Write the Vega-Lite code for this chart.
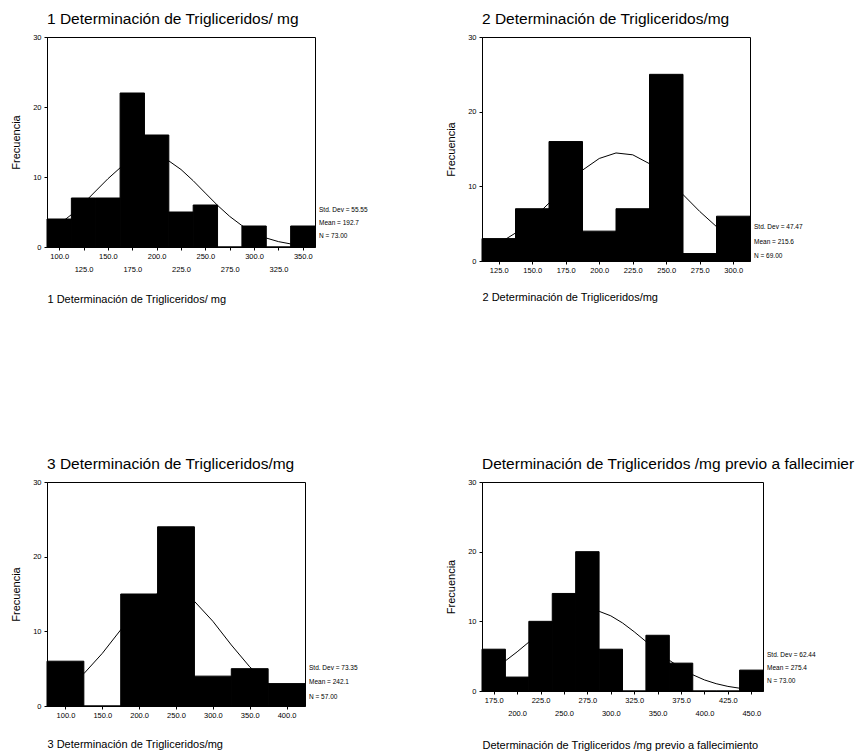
{
  "$schema": "https://vega.github.io/schema/vega-lite/v6.json",
  "background": "white",
  "padding": {"left": 10, "top": 11, "right": 0, "bottom": 0},
  "columns": 2,
  "bounds": "flush",
  "align": {"row": "each", "column": "none"},
  "spacing": {"row": 221, "column": 167},
  "config": {
    "font": "Liberation Sans",
    "view": {"stroke": "black", "strokeWidth": 1},
    "title": {"font": "Liberation Sans", "fontSize": 15.5, "fontWeight": "normal", "anchor": "start", "frame": "group", "color": "black", "offset": 6},
    "axis": {"labelFont": "Liberation Sans", "titleFont": "Liberation Sans", "labelFontSize": 7.5, "labelColor": "black", "titleColor": "black", "domainColor": "black", "tickColor": "black", "grid": false, "titleFontWeight": "normal", "labelFlush": false, "labelOverlap": false, "tickSize": 3, "labelPadding": 2},
    "axisY": {"format": "d", "titleFontSize": 11, "titlePadding": 11, "labelPadding": 3},
    "axisX": {"format": ".1f", "titleFontSize": 11, "titleAnchor": "start", "titleAlign": "left", "titleBaseline": "middle", "titleX": 0}
  },
  "concat": [
    {
      "width": 268, "height": 210,
      "title": "1 Determinación de Trigliceridos/ mg",
      "layer": [
        {
          "data": {"values": [
            {"lo": 87.5, "hi": 112.5, "count": 4}, {"lo": 112.5, "hi": 137.5, "count": 7}, {"lo": 137.5, "hi": 162.5, "count": 7},
            {"lo": 162.5, "hi": 187.5, "count": 22}, {"lo": 187.5, "hi": 212.5, "count": 16}, {"lo": 212.5, "hi": 237.5, "count": 5},
            {"lo": 237.5, "hi": 262.5, "count": 6}, {"lo": 262.5, "hi": 287.5, "count": 0}, {"lo": 287.5, "hi": 312.5, "count": 3},
            {"lo": 312.5, "hi": 337.5, "count": 0}, {"lo": 337.5, "hi": 362.5, "count": 3}
          ]},
          "mark": {"type": "rect", "color": "black", "stroke": "black", "strokeWidth": 1},
          "encoding": {
            "x": {"field": "lo", "type": "quantitative", "scale": {"domain": [87.5, 362.5], "nice": false, "zero": false},
              "axis": {"title": "1 Determinación de Trigliceridos/ mg", "values": [100, 125, 150, 175, 200, 225, 250, 275, 300, 325, 350], "tickCount": 40, "titleY": 52, "labelOverlap": false,
                "labelPadding": {"condition": {"test": "datum.value % 50 === 25", "value": 15}, "value": 2}}},
            "x2": {"field": "hi"},
            "y": {"field": "count", "type": "quantitative", "scale": {"domain": [0, 30], "nice": false}, "axis": {"title": "Frecuencia", "values": [0, 10, 20, 30], "tickCount": 10}},
            "y2": {"datum": 0}
          }
        },
        {
          "data": {"values": [
            {"v": 87.5, "f": 2.18}, {"v": 100, "f": 3.26}, {"v": 112.5, "f": 4.62}, {"v": 125, "f": 6.24}, {"v": 137.5, "f": 8.0},
            {"v": 150, "f": 9.75}, {"v": 162.5, "f": 11.31}, {"v": 175, "f": 12.46}, {"v": 187.5, "f": 13.05}, {"v": 200, "f": 12.99},
            {"v": 212.5, "f": 12.3}, {"v": 225, "f": 11.07}, {"v": 237.5, "f": 9.47}, {"v": 250, "f": 7.7}, {"v": 262.5, "f": 5.95},
            {"v": 275, "f": 4.37}, {"v": 287.5, "f": 3.06}, {"v": 300, "f": 2.03}, {"v": 312.5, "f": 1.28}, {"v": 325, "f": 0.77},
            {"v": 337.5, "f": 0.44}, {"v": 350, "f": 0.24}, {"v": 362.5, "f": 0.12}
          ]},
          "mark": {"type": "line", "color": "black", "strokeWidth": 1},
          "encoding": {"x": {"field": "v", "type": "quantitative"}, "y": {"field": "f", "type": "quantitative"}}
        },
        {
          "data": {"values": [
            {"label": "Std. Dev = 55.55", "pos": 5.3}, {"label": "Mean = 192.7", "pos": 3.4}, {"label": "N = 73.00", "pos": 1.6}
          ]},
          "mark": {"type": "text", "align": "left", "baseline": "middle", "dx": 4, "fontSize": 6.5, "color": "black"},
          "encoding": {"x": {"datum": 362.5}, "y": {"field": "pos", "type": "quantitative"}, "text": {"field": "label"}}
        }
      ]
    },
    {
      "width": 268, "height": 224,
      "title": "2 Determinación de Trigliceridos/mg",
      "layer": [
        {
          "data": {"values": [
            {"lo": 112.5, "hi": 137.5, "count": 3}, {"lo": 137.5, "hi": 162.5, "count": 7}, {"lo": 162.5, "hi": 187.5, "count": 16},
            {"lo": 187.5, "hi": 212.5, "count": 4}, {"lo": 212.5, "hi": 237.5, "count": 7}, {"lo": 237.5, "hi": 262.5, "count": 25},
            {"lo": 262.5, "hi": 287.5, "count": 1}, {"lo": 287.5, "hi": 312.5, "count": 6}
          ]},
          "mark": {"type": "rect", "color": "black", "stroke": "black", "strokeWidth": 1},
          "encoding": {
            "x": {"field": "lo", "type": "quantitative", "scale": {"domain": [112.5, 312.5], "nice": false, "zero": false},
              "axis": {"title": "2 Determinación de Trigliceridos/mg", "values": [125, 150, 175, 200, 225, 250, 275, 300], "tickCount": 40, "titleY": 36, "labelOverlap": false}},
            "x2": {"field": "hi"},
            "y": {"field": "count", "type": "quantitative", "scale": {"domain": [0, 30], "nice": false}, "axis": {"title": "Frecuencia", "values": [0, 10, 20, 30], "tickCount": 10}},
            "y2": {"datum": 0}
          }
        },
        {
          "data": {"values": [
            {"v": 112.5, "f": 1.37}, {"v": 125, "f": 2.35}, {"v": 137.5, "f": 3.75}, {"v": 150, "f": 5.58}, {"v": 162.5, "f": 7.75},
            {"v": 175, "f": 10.06}, {"v": 187.5, "f": 12.17}, {"v": 200, "f": 13.73}, {"v": 212.5, "f": 14.47}, {"v": 225, "f": 14.22},
            {"v": 237.5, "f": 13.03}, {"v": 250, "f": 11.15}, {"v": 262.5, "f": 8.9}, {"v": 275, "f": 6.63}, {"v": 287.5, "f": 4.6},
            {"v": 300, "f": 2.99}, {"v": 312.5, "f": 1.81}
          ]},
          "mark": {"type": "line", "color": "black", "strokeWidth": 1},
          "encoding": {"x": {"field": "v", "type": "quantitative"}, "y": {"field": "f", "type": "quantitative"}}
        },
        {
          "data": {"values": [
            {"label": "Std. Dev = 47.47", "pos": 4.6}, {"label": "Mean = 215.6", "pos": 2.6}, {"label": "N = 69.00", "pos": 0.7}
          ]},
          "mark": {"type": "text", "align": "left", "baseline": "middle", "dx": 4, "fontSize": 6.5, "color": "black"},
          "encoding": {"x": {"datum": 312.5}, "y": {"field": "pos", "type": "quantitative"}, "text": {"field": "label"}}
        }
      ]
    },
    {
      "width": 258, "height": 224,
      "title": "3 Determinación de Trigliceridos/mg",
      "layer": [
        {
          "data": {"values": [
            {"lo": 75, "hi": 125, "count": 6}, {"lo": 125, "hi": 175, "count": 0}, {"lo": 175, "hi": 225, "count": 15},
            {"lo": 225, "hi": 275, "count": 24}, {"lo": 275, "hi": 325, "count": 4}, {"lo": 325, "hi": 375, "count": 5},
            {"lo": 375, "hi": 425, "count": 3}
          ]},
          "mark": {"type": "rect", "color": "black", "stroke": "black", "strokeWidth": 1},
          "encoding": {
            "x": {"field": "lo", "type": "quantitative", "scale": {"domain": [75, 425], "nice": false, "zero": false},
              "axis": {"title": "3 Determinación de Trigliceridos/mg", "values": [100, 150, 200, 250, 300, 350, 400], "tickCount": 40, "titleY": 38, "labelOverlap": false}},
            "x2": {"field": "hi"},
            "y": {"field": "count", "type": "quantitative", "scale": {"domain": [0, 30], "nice": false}, "axis": {"title": "Frecuencia", "values": [0, 10, 20, 30], "tickCount": 10}},
            "y2": {"datum": 0}
          }
        },
        {
          "data": {"values": [
            {"v": 75, "f": 1.16}, {"v": 100, "f": 2.37}, {"v": 125, "f": 4.33}, {"v": 150, "f": 7.05}, {"v": 175, "f": 10.2},
            {"v": 200, "f": 13.15}, {"v": 225, "f": 15.08}, {"v": 250, "f": 15.41}, {"v": 275, "f": 14.02}, {"v": 300, "f": 11.35},
            {"v": 325, "f": 8.18}, {"v": 350, "f": 5.25}, {"v": 375, "f": 3.0}, {"v": 400, "f": 1.53}, {"v": 425, "f": 0.69}
          ]},
          "mark": {"type": "line", "color": "black", "strokeWidth": 1},
          "encoding": {"x": {"field": "v", "type": "quantitative"}, "y": {"field": "f", "type": "quantitative"}}
        },
        {
          "data": {"values": [
            {"label": "Std. Dev = 73.35", "pos": 5.1}, {"label": "Mean = 242.1", "pos": 3.2}, {"label": "N = 57.00", "pos": 1.2}
          ]},
          "mark": {"type": "text", "align": "left", "baseline": "middle", "dx": 4, "fontSize": 6.5, "color": "black"},
          "encoding": {"x": {"datum": 425}, "y": {"field": "pos", "type": "quantitative"}, "text": {"field": "label"}}
        }
      ]
    },
    {
      "width": 281, "height": 209,
      "title": "Determinación de Trigliceridos /mg previo a fallecimier",
      "layer": [
        {
          "data": {"values": [
            {"lo": 162.5, "hi": 187.5, "count": 6}, {"lo": 187.5, "hi": 212.5, "count": 2}, {"lo": 212.5, "hi": 237.5, "count": 10},
            {"lo": 237.5, "hi": 262.5, "count": 14}, {"lo": 262.5, "hi": 287.5, "count": 20}, {"lo": 287.5, "hi": 312.5, "count": 6},
            {"lo": 312.5, "hi": 337.5, "count": 0}, {"lo": 337.5, "hi": 362.5, "count": 8}, {"lo": 362.5, "hi": 387.5, "count": 4},
            {"lo": 387.5, "hi": 412.5, "count": 0}, {"lo": 412.5, "hi": 437.5, "count": 0}, {"lo": 437.5, "hi": 462.5, "count": 3}
          ]},
          "mark": {"type": "rect", "color": "black", "stroke": "black", "strokeWidth": 1},
          "encoding": {
            "x": {"field": "lo", "type": "quantitative", "scale": {"domain": [162.5, 462.5], "nice": false, "zero": false},
              "axis": {"title": "Determinación de Trigliceridos /mg previo a fallecimiento", "values": [175, 200, 225, 250, 275, 300, 325, 350, 375, 400, 425, 450], "tickCount": 40, "titleY": 54, "labelOverlap": false,
                "labelPadding": {"condition": {"test": "datum.value % 50 === 0", "value": 15}, "value": 2}}},
            "x2": {"field": "hi"},
            "y": {"field": "count", "type": "quantitative", "scale": {"domain": [0, 30], "nice": false}, "axis": {"title": "Frecuencia", "values": [0, 10, 20, 30], "tickCount": 10}},
            "y2": {"datum": 0}
          }
        },
        {
          "data": {"values": [
            {"v": 162.5, "f": 2.27}, {"v": 175, "f": 3.2}, {"v": 187.5, "f": 4.33}, {"v": 200, "f": 5.62}, {"v": 212.5, "f": 7.02},
            {"v": 225, "f": 8.42}, {"v": 237.5, "f": 9.7}, {"v": 250, "f": 10.73}, {"v": 262.5, "f": 11.41}, {"v": 275, "f": 11.66},
            {"v": 287.5, "f": 11.44}, {"v": 300, "f": 10.79}, {"v": 312.5, "f": 9.77}, {"v": 325, "f": 8.5}, {"v": 337.5, "f": 7.11},
            {"v": 350, "f": 5.71}, {"v": 362.5, "f": 4.41}, {"v": 375, "f": 3.27}, {"v": 387.5, "f": 2.33}, {"v": 400, "f": 1.59},
            {"v": 412.5, "f": 1.05}, {"v": 425, "f": 0.66}, {"v": 437.5, "f": 0.4}, {"v": 450, "f": 0.23}, {"v": 462.5, "f": 0.13}
          ]},
          "mark": {"type": "line", "color": "black", "strokeWidth": 1},
          "encoding": {"x": {"field": "v", "type": "quantitative"}, "y": {"field": "f", "type": "quantitative"}}
        },
        {
          "data": {"values": [
            {"label": "Std. Dev = 62.44", "pos": 5.2}, {"label": "Mean = 275.4", "pos": 3.3}, {"label": "N = 73.00", "pos": 1.4}
          ]},
          "mark": {"type": "text", "align": "left", "baseline": "middle", "dx": 4, "fontSize": 6.5, "color": "black"},
          "encoding": {"x": {"datum": 462.5}, "y": {"field": "pos", "type": "quantitative"}, "text": {"field": "label"}}
        }
      ]
    }
  ]
}
